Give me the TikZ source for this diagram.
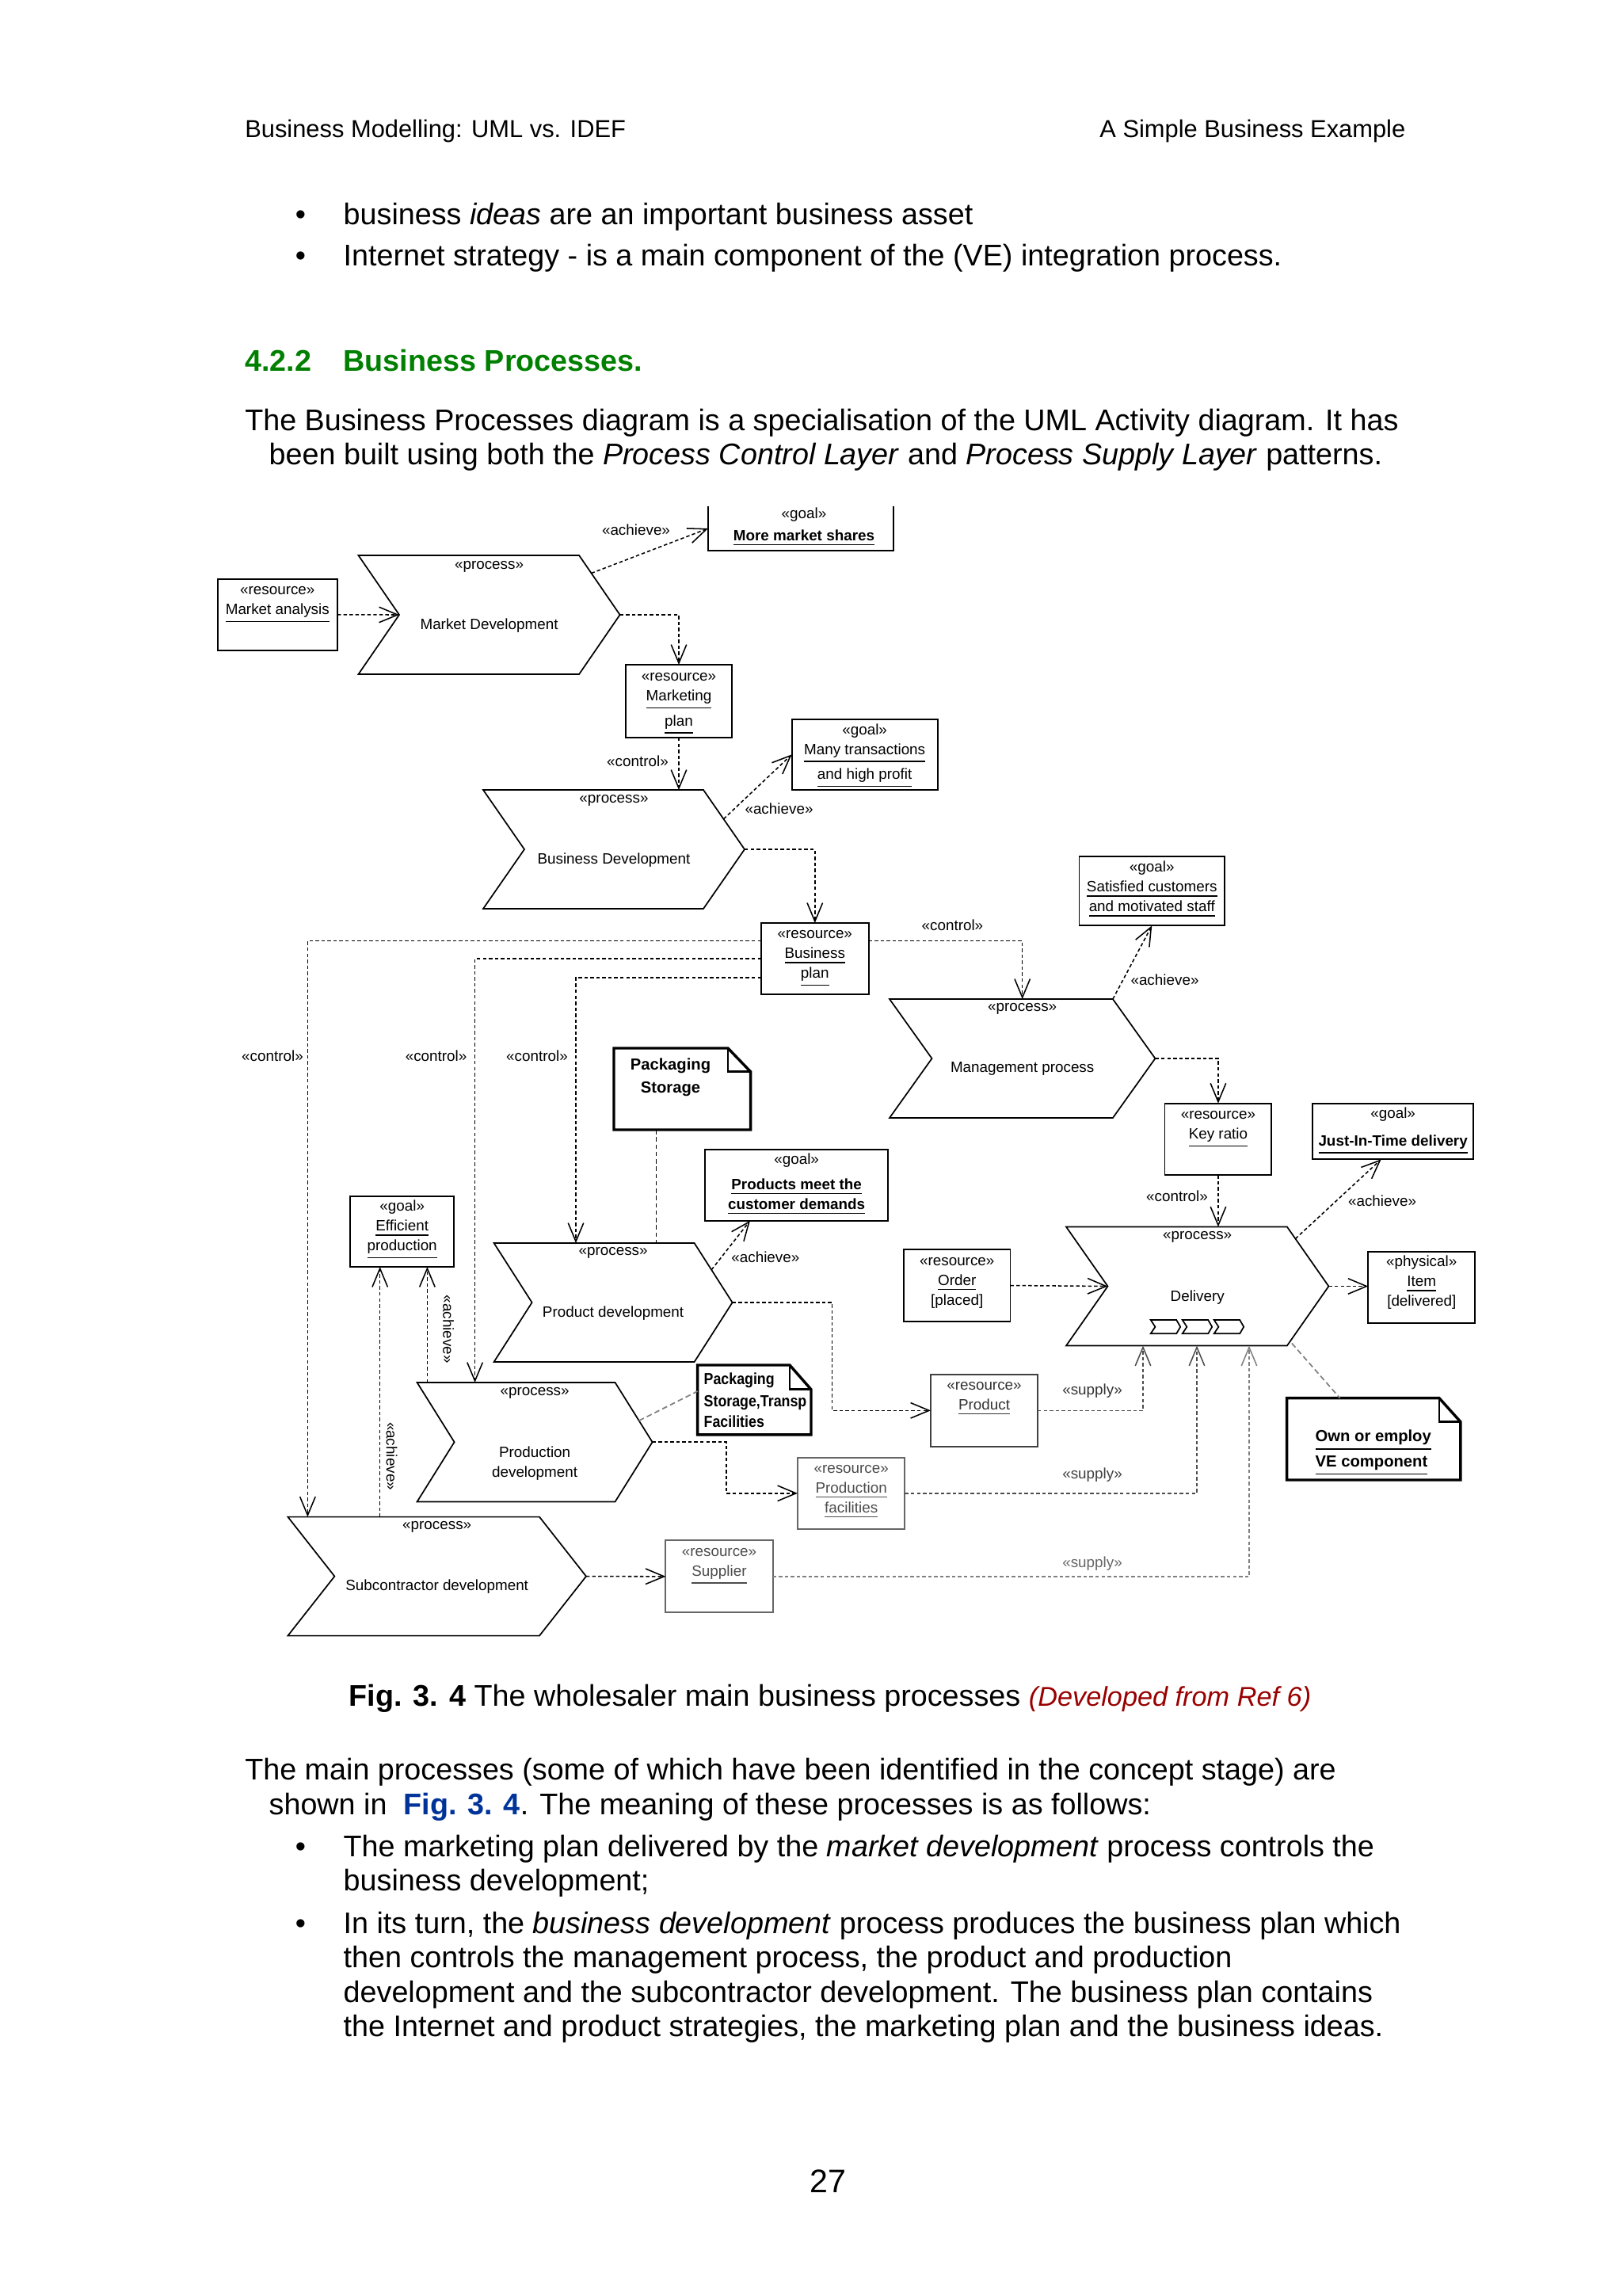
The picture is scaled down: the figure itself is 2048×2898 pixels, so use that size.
\documentclass[tikz,border=0pt]{standalone}
\usepackage{fontspec}
\setmainfont{Liberation Sans}
\newfontfamily\narrowsans[FakeStretch=0.88]{Liberation Sans}
\usetikzlibrary{calc,fit,arrows.meta}
\definecolor{hgreen}{RGB}{0,128,0}
\definecolor{cred}{RGB}{153,0,0}
\definecolor{fblue}{RGB}{0,51,153}
\newcommand\dfont{\fontsize{5.5pt}{7.3pt}\selectfont}
\newcommand\nfont{\fontsize{5.9pt}{8.4pt}\selectfont\bfseries}
\newcommand\pfont{\fontsize{11pt}{12.65pt}\selectfont}
\newcommand\hfont{\fontsize{9pt}{11pt}\selectfont}
\newcommand\dstr{\rule[-2.3pt]{0pt}{7.3pt}}
\newcommand\nstr{\rule[-2.8pt]{0pt}{8.4pt}}
\newcommand\procshape[2]{%
  \draw[proc] (#1.north west) -- ($(#1.north east)+(-#2,0)$) -- (#1.east) -- ($(#1.south east)+(-#2,0)$) -- (#1.south west) -- ($(#1.west)+(#2,0)$) -- cycle;
  \coordinate (#1-ne) at ($(#1.north east)+(-#2,0)$);
  \coordinate (#1-se) at ($(#1.south east)+(-#2,0)$);
  \coordinate (#1-in) at ($(#1.west)+(#2,0)$);}
\newcommand\notefold[3]{%
  \draw[note] (#1.north west) -- ($(#1.north east)+(-#2,0)$) -- ($(#1.north east)+(0,#3)$) -- (#1.south east) -- (#1.south west) -- cycle;
  \draw[line width=0.8pt] ($(#1.north east)+(-#2,0)$) -- ($(#1.north east)+(-#2,#3)$) -- ($(#1.north east)+(0,#3)$);}
\begin{document}
\begin{tikzpicture}[x=0.1025mm,y=-0.1025mm,
  rbox/.style={draw, line width=0.55pt, inner sep=0pt, outer sep=0pt},
  gbox/.style={rbox, draw=black!60},
  ghost/.style={inner sep=0pt, outer sep=0pt},
  proc/.style={draw, line width=0.5pt, line join=miter},
  note/.style={draw, line width=1pt, line join=miter},
  dep/.style={line width=0.45pt, dash pattern=on 1.3pt off 0.9pt, -{Straight Barb[length=2.4mm,width=2mm]}},
  depn/.style={line width=0.45pt, dash pattern=on 1.6pt off 1.1pt},
  gdep/.style={dep, draw=black!70},
  gdep2/.style={dep, draw=black!50},
  gline/.style={line width=0.5pt, draw=black!50, dash pattern=on 2pt off 1.2pt},
  dtxt/.style={font=\dfont, inner sep=0pt, align=center},
  lbl/.style={font=\dfont, inner sep=0pt},
  ntxt/.style={font=\nfont, inner sep=0pt},
  ptxt/.style={font=\pfont, inner sep=0pt, anchor=base west}]
\fill[white] (0,0) rectangle (2048,2898);
\useasboundingbox (0,0) rectangle (2048,2898);

% ---------- page text ----------
\node[font=\hfont, inner sep=0pt, anchor=base west] (hdrL) at (308.6,174) {Business Modelling: UML vs. IDEF};
\node[font=\hfont, inner sep=0pt, anchor=base east] (hdrR) at (1775,174) {A Simple Business Example};
\node[ptxt, anchor=base] (b1) at (379.5,283.6) {•};
\node[ptxt] (t1) at (433,283.6) {business \textit{ideas} are an important business asset};
\node[ptxt, anchor=base] (b2) at (379.5,335.3) {•};
\node[ptxt] (t2) at (433,335.3) {Internet strategy - is a main component of the (VE) integration process.};
\node[ptxt, text=hgreen, font=\pfont\bfseries] (h1) at (308.6,468.6) {4.2.2};
\node[ptxt, text=hgreen, font=\pfont\bfseries] (h2) at (433,468.6) {Business Processes.};
\node[ptxt] (p1) at (308.6,543.6) {The Business Processes diagram is a specialisation of the UML Activity diagram. It has};
\node[ptxt] (p2) at (339,586.9) {been built using both the \textit{Process Control Layer} and \textit{Process Supply Layer} patterns.};
\node[ptxt] (cap) at (440,2153.6) {\textbf{Fig. 3. 4} The wholesaler main business processes \textcolor{cred}{\fontsize{10pt}{12pt}\selectfont\textit{(Developed from Ref 6)}}};
\node[ptxt] (q1) at (308.6,2246.9) {The main processes (some of which have been identified in the concept stage) are};
\node[ptxt] (q2) at (339,2290.3) {shown in \ \textcolor{fblue}{\textbf{Fig. 3. 4}}. The meaning of these processes is as follows:};
\node[ptxt, anchor=base] (b3) at (379.5,2343.6) {•};
\node[ptxt] (r1) at (433,2343.6) {The marketing plan delivered by the \textit{market development} process controls the};
\node[ptxt] (r2) at (433,2386.9) {business development;};
\node[ptxt, anchor=base] (b4) at (379.5,2440.3) {•};
\node[ptxt] (r3) at (433,2440.3) {In its turn, the \textit{business development} process produces the business plan which};
\node[ptxt] (r4) at (433,2483.7) {then controls the management process, the product and production};
\node[ptxt] (r5) at (433,2527.1) {development and the subcontractor development. The business plan contains};
\node[ptxt] (r6) at (433,2570.5) {the Internet and product strategies, the marketing plan and the business ideas.};
\node[font=\fontsize{12pt}{14pt}\selectfont, inner sep=0pt, anchor=base] (pg) at (1045,2767) {27};

% ---------- process chevrons ----------
\node[ghost, fit={(452.5,701) (782.6,851)}] (md) {};
\procshape{md}{51.5}
\node[lbl] (md-s) at ($(md.north)+(0,14)$) {«process»};
\node[lbl] (md-n) at ($(md.center)+(0,14)$) {Market Development};

\node[ghost, fit={(610,997) (940,1147)}] (bd) {};
\procshape{bd}{52}
\node[lbl] (bd-s) at ($(bd.north)+(0,13)$) {«process»};
\node[lbl] (bd-n) at ($(bd.center)+(0,14)$) {Business Development};

\node[ghost, fit={(1123,1261) (1458.4,1411)}] (mgp) {};
\procshape{mgp}{53.5}
\node[lbl] (mgp-s) at ($(mgp.north)+(0,12.5)$) {«process»};
\node[lbl] (mgp-n) at ($(mgp.center)+(0,12.6)$) {Management process};

\node[ghost, fit={(623.6,1569) (924.6,1719)}] (pd) {};
\procshape{pd}{48}
\node[lbl] (pd-s) at ($(pd.north)+(0,12.5)$) {«process»};
\node[lbl] (pd-n) at ($(pd.center)+(0,13.7)$) {Product development};

\node[ghost, fit={(526.6,1745) (823.6,1895.4)}] (prd) {};
\procshape{prd}{47}
\node[lbl] (prd-s) at ($(prd.north)+(0,13.8)$) {«process»};
\node[dtxt] (prd-n) at ($(prd.center)+(0,27)$) {Production\\development};

\node[ghost, fit={(363.4,1914.6) (740,2064.6)}] (sd) {};
\procshape{sd}{59}
\node[lbl] (sd-s) at ($(sd.north)+(0,12.4)$) {«process»};
\node[lbl] (sd-n) at ($(sd.center)+(0,13)$) {Subcontractor development};

\node[ghost, fit={(1346,1548.5) (1677.4,1698.5)}] (del) {};
\procshape{del}{52.5}
\node[lbl] (del-s) at ($(del.north)+(0,13)$) {«process»};
\node[lbl] (del-n) at ($(del.center)+(0,14)$) {Delivery};
\foreach \x in {1452.7,1492.7,1532.7}{
  \draw[line width=0.5pt] (\x,1666) -- (\x+32.5,1666) -- (\x+37.5,1674.7) -- (\x+32.5,1683.3) -- (\x,1683.3) -- (\x+5.7,1674.7) -- cycle;}

% ---------- boxes ----------
\node[rbox, fit={(274.6,730.7) (426,821)}] (ma) {};
\node[dtxt, anchor=north] (ma-t) at ($(ma.north)+(0,2)$) {\dstr«resource»\\\dstr\underline{Market analysis}};

\node[ghost, fit={(894,639) (1128,695)}] (gms) {};
\draw[line width=0.55pt] (gms.north west) -- (gms.south west) -- (gms.south east) -- (gms.north east);
\node[dtxt, anchor=north] (gms-t) at ($(gms.north)+(4,-2)$) {\dstr«goal»\\[0.8pt]\dstr\textbf{\underline{More market shares}}};

\node[rbox, fit={(790,839) (924,931)}] (mp) {};
\node[dtxt, anchor=north] (mp-t) at ($(mp.north)+(0,3)$) {\dstr«resource»\\\dstr\underline{Marketing}\\\dstr\underline{plan}};

\node[rbox, fit={(999.6,907.7) (1183.7,997)}] (gmt) {};
\node[dtxt, anchor=north] (gmt-t) at ($(gmt.north)+(0,1.7)$) {\dstr«goal»\\\dstr\underline{Many transactions}\\\dstr\underline{and high profit}};

\node[rbox, fit={(961,1165) (1096.6,1255)}] (bp) {};
\node[dtxt, anchor=north] (bp-t) at ($(bp.north)+(0,2)$) {\dstr«resource»\\\dstr\underline{Business}\\\dstr\underline{plan}};

\node[rbox, fit={(1362.5,1081) (1546,1168.3)}] (gsc) {};
\node[dtxt, anchor=north] (gsc-t) at ($(gsc.north)+(0,2)$) {\dstr«goal»\\\dstr\underline{Satisfied customers}\\\dstr\underline{and motivated staff}};

\node[rbox, fit={(1470.5,1392.7) (1605.4,1483.3)}] (kr) {};
\node[dtxt, anchor=north] (kr-t) at ($(kr.north)+(0,2)$) {\dstr«resource»\\\dstr\underline{Key ratio}};

\node[rbox, fit={(1657,1392.7) (1860.3,1463.3)}] (jit) {};
\node[dtxt, anchor=north] (jit-t) at ($(jit.north)+(0,1)$) {\dstr«goal»\\[2.8pt]\dstr\textbf{\underline{Just-In-Time delivery}}};

\node[rbox, fit={(890,1451) (1121.3,1540.7)}] (gpm) {};
\node[dtxt, anchor=north] (gpm-t) at ($(gpm.north)+(0,1)$) {\dstr«goal»\\[2pt]\dstr\textbf{\underline{Products meet the}}\\\dstr\textbf{\underline{customer demands}}};

\node[rbox, fit={(442.4,1509.6) (573,1599)}] (eff) {};
\node[dtxt, anchor=north] (eff-t) at ($(eff.north)+(0,1.4)$) {\dstr«goal»\\\dstr\underline{Efficient}\\\dstr\underline{production}};

\node[rbox, fit={(1141,1577) (1275.5,1668)}] (ord) {};
\node[dtxt, anchor=north] (ord-t) at ($(ord.north)+(0,2.5)$) {\dstr«resource»\\\dstr\underline{Order}\\\dstr[placed]};

\node[rbox, fit={(1727.3,1579.6) (1862.2,1669.6)}] (item) {};
\node[dtxt, anchor=north] (item-t) at ($(item.north)+(0,1.4)$) {\dstr«physical»\\\dstr\underline{Item}\\\dstr[delivered]};

\node[rbox, draw=black!75, fit={(1175,1734.6) (1310,1826)}] (prod) {};
\node[dtxt, anchor=north, text=black!80] (prod-t) at ($(prod.north)+(0,2)$) {\dstr«resource»\\\dstr\underline{Product}};

\node[gbox, fit={(1007,1839.6) (1142.4,1930)}] (pf) {};
\node[dtxt, anchor=north, text=black!70] (pf-t) at ($(pf.north)+(0,1.8)$) {\dstr«resource»\\\dstr\underline{Production}\\\dstr\underline{facilities}};

\node[gbox, fit={(840.4,1944.2) (975.6,2035.4)}] (sup) {};
\node[dtxt, anchor=north, text=black!70] (sup-t) at ($(sup.north)+(0,2.2)$) {\dstr«resource»\\\dstr\underline{Supplier}};

% ---------- notes ----------
\node[ghost, fit={(775,1323) (947.6,1426)}] (pkg1) {};
\notefold{pkg1}{28.6}{29.7}
\node[ntxt, align=center, anchor=north] (pkg1-t) at ($(pkg1.north)+(-14.8,7.7)$) {\nstr Packaging\\\nstr Storage};

\node[ghost, fit={(880.7,1723) (1024,1810.8)}] (pkg2) {};
\notefold{pkg2}{27}{30.8}
\node[ntxt, font=\nfont\narrowsans\bfseries, align=left, anchor=north west] (pkg2-t) at ($(pkg2.north west)+(7.3,5)$) {\nstr Packaging\\[-0.5pt]\nstr Storage,Transp\\[-0.8pt]\nstr Facilities};

\node[ghost, fit={(1624.6,1764.6) (1843.9,1868)}] (own) {};
\notefold{own}{27}{30}
\node[ntxt, align=left, anchor=north west] (own-t) at ($(own.north west)+(35.4,35.4)$) {\nstr\underline{Own or employ}\\[-0.7pt]\nstr\underline{VE component}};

% ---------- connectors ----------
\draw[dep] (ma.east) -- (md-in);
\draw[dep] ($(md-ne)!0.3!(md.east)$) -- (gms.west);
\draw[dep] (md.east) -| (mp.north);
\draw[dep] (mp.south) -- (mp.south |- bd.north);
\draw[dep] ($(bd-ne)!0.49!(bd.east)$) -- (gmt.west);
\draw[dep] (bd.east) -| (bp.north);
\coordinate (bp-r) at ($(bp.north east)+(0,22.7)$);
\draw[dep] (bp-r) -| (mgp.north);
\draw[dep] (mgp-ne) -- (gsc.south);
\draw[dep] (mgp.east) -| (kr.north);
\draw[dep] (kr.south) -- (kr.south |- del.north);
\draw[dep] ($(del-ne)!0.2!(del.east)$) -- ($(jit.south)+(-15,0)$);
\draw[dep] (ord.east) -- (del-in);
\draw[dep] (del.east) -- (item.west |- del.east);
\draw[gline] ($(del-se)+(6,-3)$) -- ($(own.north west)+(67,0)$);

\coordinate (bp-l1) at ($(bp.north west)+(0,22.7)$);
\coordinate (bp-l2) at ($(bp.north west)+(0,45)$);
\coordinate (bp-l3) at ($(bp.north west)+(0,69)$);
\coordinate (sd-c) at ($(sd.north west)+(25,0)$);
\coordinate (prd-c) at ($(prd.north west)+(73,0)$);
\coordinate (pd-c) at ($(pd.north west)+(103.4,0)$);
\draw[dep] (bp-l1) -| (sd-c);
\draw[dep] (bp-l2) -| (prd-c);
\draw[dep] (bp-l3) -| (pd-c);

\coordinate (pk1b) at ($(pkg1.south west)+(53.7,0)$);
\draw[depn] (pk1b) -- (pk1b |- pd.north);
\draw[dep] ($(pd-ne)!0.45!(pd.east)$) -- ($(gpm.south west)+(57,0)$);
\coordinate (j1) at ($(pd.east)+(126,0)$);
\draw[dep] (pd.east) -- (j1) |- (prod.west);
\coordinate (j2) at ($(prd.east)+(93.4,0)$);
\draw[dep] (prd.east) -- (j2) |- (pf.west);
\draw[gline] ($(prd-ne)!0.64!(prd.east)$) -- ($(pkg2.north west)+(0,33)$);
\draw[dep] (sd.east) -- (sup.west);
\coordinate (e1) at ($(prd.north west)+(12.8,0)$);
\draw[dep] (e1) -- (e1 |- eff.south);
\coordinate (e2) at ($(sd.north west)+(116.3,0)$);
\draw[dep] (e2) -- (e2 |- eff.south);
\coordinate (s1) at ($(del.south west)+(97,0)$);
\coordinate (s2) at ($(del.south west)+(165,0)$);
\coordinate (s3) at ($(del.south west)+(231,0)$);
\draw[gdep] (prod.east) -| (s1);
\draw[gdep] (pf.east) -| (s2);
\draw[gdep2] (sup.east) -| (s3);

% ---------- connector labels ----------
\node[lbl] (ach1) at (803,669) {«achieve»};
\node[lbl] (ctl1) at (805,961) {«control»};
\node[lbl] (ach2) at (983.5,1020.7) {«achieve»};
\node[lbl] (ctl2) at (1202.4,1167.3) {«control»};
\node[lbl] (ach3) at (1470.5,1236.7) {«achieve»};
\node[lbl] (ctl3) at (344,1333) {«control»};
\node[lbl] (ctl4) at (550.6,1333) {«control»};
\node[lbl] (ctl5) at (678,1333) {«control»};
\node[lbl] (ctl6) at (1486,1510) {«control»};
\node[lbl] (ach4) at (1745,1516) {«achieve»};
\node[lbl] (ach5) at (966.4,1587) {«achieve»};
\node[lbl, rotate=-90] (ach6) at (566,1677.7) {«achieve»};
\node[lbl, rotate=-90] (ach7) at (494.5,1838) {«achieve»};
\node[lbl, text=black!80] (sup1) at (1379,1755.8) {«supply»};
\node[lbl, text=black!75] (sup2) at (1379,1861.5) {«supply»};
\node[lbl, text=black!60] (sup3) at (1379,1974) {«supply»};
\end{tikzpicture}
\end{document}
